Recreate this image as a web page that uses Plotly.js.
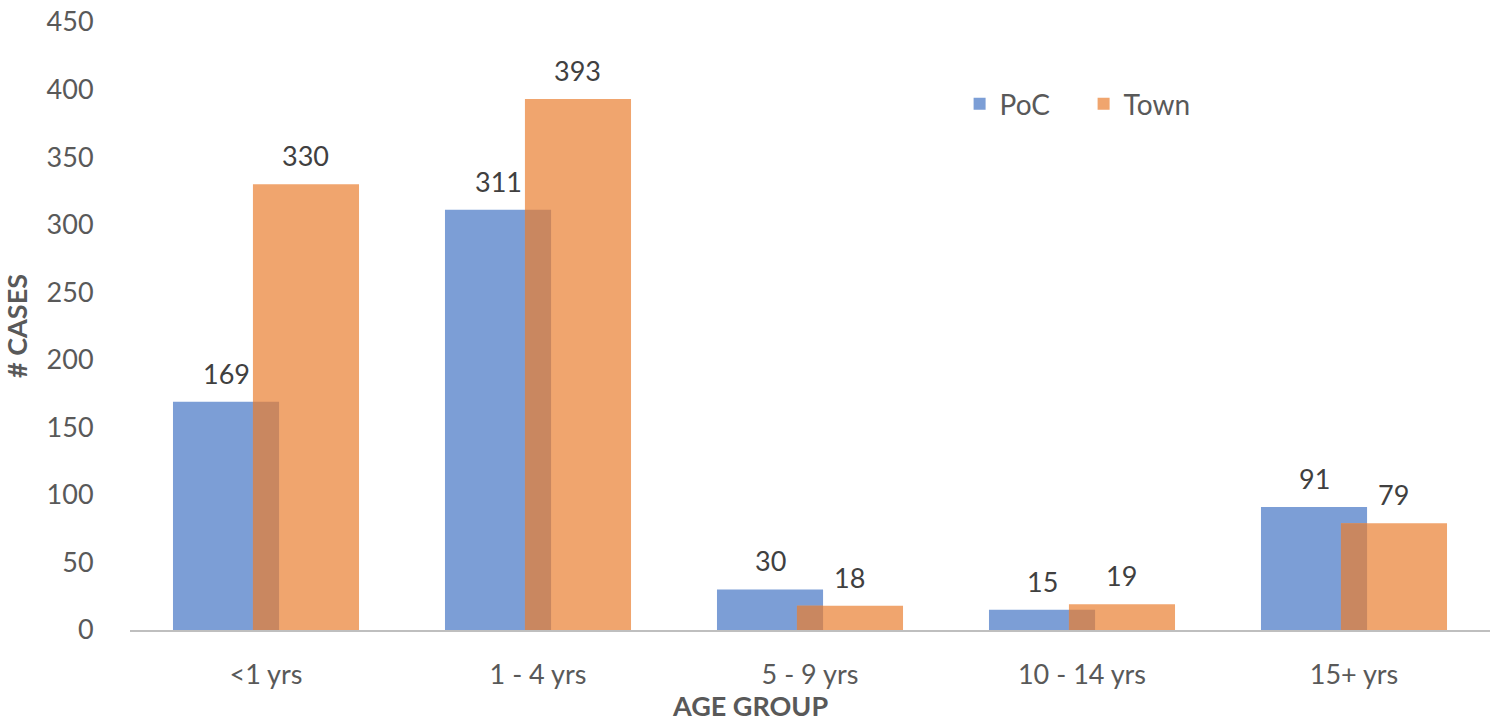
<!DOCTYPE html>
<html>
<head>
<meta charset="utf-8">
<script src="https://cdn.plot.ly/plotly-3.0.1.min.js"></script>
<style>html,body{margin:0;padding:0;background:#fff;}#chart{width:1496px;height:721px;}</style>
</head>
<body>
<div id="chart"></div>
<script>
const categories = ['<1 yrs', '1 - 4 yrs', '5 - 9 yrs', '10 - 14 yrs', '15+ yrs'];
const pocValues = [169, 311, 30, 15, 91];
const townValues = [330, 393, 18, 19, 79];
const yTicks = [0, 50, 100, 150, 200, 250, 300, 350, 400, 450];

const overlap = pocValues.map((v, i) => Math.min(v, townValues[i]));
const font = 'Lato, "Open Sans", sans-serif';
const barW = 0.39;
const pocOffset = -0.342;
const townOffset = -0.048;

const traces = [
  {
    type: 'bar', name: 'PoC', x: categories, y: pocValues,
    width: barW, offset: pocOffset,
    marker: {color: '#7C9ED6'}, hoverinfo: 'x+y'
  },
  {
    type: 'bar', name: 'Town', x: categories, y: townValues,
    width: barW, offset: townOffset,
    marker: {color: '#F0A56E'}, hoverinfo: 'x+y'
  },
  {
    type: 'bar', name: 'overlap', x: categories, y: overlap,
    width: pocOffset + barW - townOffset, offset: townOffset,
    marker: {color: '#C98760'},
    showlegend: false, hoverinfo: 'skip'
  }
];

const labelFont = {family: font, size: 27, color: '#404040'};
const annotations = [];
pocValues.forEach((v, i) => annotations.push({
  x: i + pocOffset + barW / 2, y: v, xref: 'x', yref: 'y', text: String(v),
  showarrow: false, xanchor: 'center', yanchor: 'bottom', yshift: 10, font: labelFont
}));
townValues.forEach((v, i) => annotations.push({
  x: i + townOffset + barW / 2, y: v, xref: 'x', yref: 'y', text: String(v),
  showarrow: false, xanchor: 'center', yanchor: 'bottom', yshift: 10, font: labelFont
}));
annotations.push({
  text: '<b>AGE GROUP</b>', xref: 'paper', yref: 'paper',
  x: (750 - 130) / 1360, y: 0, yshift: -75, xanchor: 'center', yanchor: 'middle',
  showarrow: false, font: {family: font, size: 27, color: '#595959'}
});

const layout = {
  width: 1496, height: 721,
  margin: {l: 130, r: 6, t: 22, b: 91},
  paper_bgcolor: '#fff', plot_bgcolor: '#fff',
  barmode: 'overlay',
  font: {family: font, size: 27, color: '#595959'},
  showlegend: true,
  legend: {
    orientation: 'h', x: 0.61, y: 0.865, xanchor: 'left', yanchor: 'middle',
    font: {family: font, size: 28, color: '#595959'},
    bgcolor: 'rgba(0,0,0,0)', traceorder: 'normal', itemwidth: 30,
    entrywidth: 79
  },
  xaxis: {
    type: 'category', showgrid: false, zeroline: false,
    showline: true, linecolor: '#BFBFBF', linewidth: 2,
    ticks: 'outside', ticklen: 20, tickcolor: 'rgba(0,0,0,0)',
    tickfont: {family: font, size: 27, color: '#595959'},
    range: [-0.5, 4.5], fixedrange: true
  },
  yaxis: {
    range: [0, 450], tickvals: yTicks, ticktext: yTicks.map(String),
    showgrid: false, zeroline: false, showline: false,
    ticks: 'outside', ticklen: 30, tickcolor: 'rgba(0,0,0,0)',
    tickfont: {family: font, size: 27, color: '#595959'},
    title: {text: '# CASES', font: {family: font, size: 27, color: '#595959', weight: 'bold'}, standoff: 12},
    fixedrange: true
  },
  annotations: annotations
};

Plotly.newPlot('chart', traces, layout, {displayModeBar: false, staticPlot: true});
</script>
</body>
</html>
